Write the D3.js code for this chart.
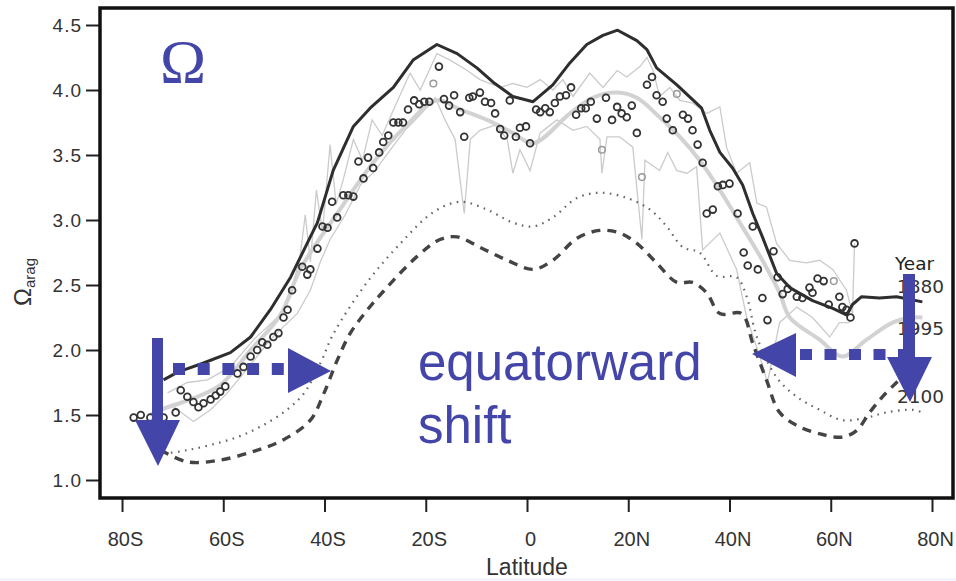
<!DOCTYPE html>
<html><head><meta charset="utf-8">
<script src="https://cdn.jsdelivr.net/npm/d3@7"></script>
<style>html,body{margin:0;padding:0;background:#fff;overflow:hidden}</style>
</head><body>
<svg id="c" width="956" height="581"></svg>
<script>
// ---------- data ----------
const latTicks = [-80,-60,-40,-20,0,20,40,60,80];
const latTickLabels = ["80S","60S","40S","20S","0","20N","40N","60N","80N"];
const omegaTicks = [1.0,1.5,2.0,2.5,3.0,3.5,4.0,4.5];
const legendYears = ["1880","1995","2100"];

// 1880 (solid black)
const lat1880 = [-71.8,-69.0,-63.9,-58.6,-54.6,-50.7,-46.7,-42.8,-41.4,-38.3,-34.3,-31.0,-26.4,-22.5,-17.8,-13.8,-9.9,-6.7,-2.8,1.2,5.1,8.5,11.8,15.0,17.9,21.7,23.7,25.6,29.6,34.5,36.1,38.1,40.6,42.6,44.6,46.5,49.3,51.9,56.4,60.4,63.1,64.3,66.1,69.6,73.0,78.1];
const val1880 = [1.77,1.83,1.90,1.98,2.10,2.31,2.56,2.87,2.98,3.38,3.72,3.86,4.02,4.23,4.35,4.28,4.17,4.06,3.95,3.91,4.04,4.21,4.35,4.42,4.46,4.38,4.31,4.17,4.04,3.86,3.69,3.52,3.40,3.27,3.05,2.87,2.59,2.48,2.38,2.32,2.27,2.35,2.41,2.40,2.41,2.37];

// 1995 model (thick light grey)
const lat1995 = [-74.5,-72.4,-66.5,-60.6,-54.6,-48.7,-44.8,-37.5,-30.4,-24.0,-17.8,-13.2,-7.9,-2.8,1.2,8.5,13.0,17.8,21.7,26.2,30.2,34.1,38.1,41.4,46.5,49.9,51.9,57.8,62.3,67.1,72.2,76.1,78.1];
const val1995 = [1.50,1.54,1.62,1.73,2.00,2.27,2.62,3.05,3.44,3.72,3.92,3.85,3.77,3.67,3.59,3.82,3.94,3.98,3.94,3.79,3.64,3.46,3.23,3.02,2.69,2.44,2.25,2.08,1.95,2.08,2.21,2.25,2.25];

// observations, thin grey traces
const latObsA = [-71.0,-67.1,-63.1,-58.6,-54.0,-49.3,-46.7,-44.8,-43.8,-42.8,-41.6,-40.4,-38.9,-37.7,-36.3,-34.3,-32.5,-30.6,-28.6,-26.0,-23.1,-21.1,-17.8,-15.2,-11.8,-9.3,-5.3,-2.8,0.0,2.6,5.1,7.1,9.1,12.4,15.0,17.8,19.7,22.3,23.7,24.9,26.2,28.2,30.2,32.7,35.5,38.1,39.4,41.4,44.0,45.4,47.3,49.3,51.9,55.2,57.8,60.4,63.1,64.3,64.7];
const valObsA = [1.67,1.75,1.77,1.87,2.08,2.25,2.41,2.73,3.04,2.68,3.23,2.91,3.58,3.12,3.31,3.62,3.46,3.77,3.65,3.88,4.13,4.00,4.28,4.23,4.15,4.08,4.02,4.05,4.02,4.08,4.00,4.08,3.95,4.13,4.02,4.15,4.10,4.18,4.25,4.15,3.95,4.02,3.92,3.90,3.82,3.87,3.56,3.36,3.44,3.13,3.10,2.82,2.69,2.67,2.69,2.62,2.46,2.28,2.82];
const latObsB = [-74.4,-70.4,-65.9,-62.5,-59.2,-56.0,-52.7,-50.7,-48.1,-45.4,-42.8,-40.8,-38.9,-35.9,-32.9,-30.0,-27.0,-24.1,-21.1,-18.1,-16.2,-14.2,-12.4,-11.2,-9.3,-6.3,-3.9,-2.8,-1.4,0.6,2.6,5.9,9.1,11.8,14.4,14.8,15.8,18.3,20.9,22.7,23.3,26.2,27.8,29.6,31.6,33.5,34.7,38.1,41.4,43.4,46.0,47.5,49.9,53.3,56.4,59.8,61.7,63.7];
const valObsB = [1.46,1.58,1.45,1.54,1.67,1.82,1.98,2.08,2.18,2.28,2.46,2.68,2.85,3.04,3.27,3.38,3.54,3.69,3.81,3.94,3.77,3.62,3.05,3.62,3.69,3.73,3.62,3.36,3.54,3.38,3.67,3.77,3.69,3.72,3.62,3.36,3.64,3.64,3.56,2.85,3.46,3.38,3.52,3.38,3.36,3.41,2.77,2.90,2.62,2.25,1.95,1.75,2.21,2.33,2.25,2.10,2.21,2.21];

// data points (open circles)
const latPts = [-77.7,-76.3,-74.4,-71.8,-69.4,-68.4,-67.1,-65.9,-64.9,-63.9,-62.5,-61.5,-60.6,-59.6,-57.2,-56.0,-54.6,-53.3,-52.3,-51.3,-50.1,-49.1,-48.1,-47.3,-46.4,-44.4,-43.4,-42.8,-41.4,-40.4,-39.4,-38.5,-37.5,-36.3,-35.3,-34.3,-33.3,-32.3,-31.4,-30.4,-29.2,-28.4,-27.4,-26.4,-25.4,-24.5,-23.5,-22.3,-21.3,-20.3,-19.3,-17.4,-16.4,-15.4,-14.4,-13.2,-12.4,-11.4,-10.7,-9.3,-8.3,-7.1,-6.3,-5.3,-4.5,-3.4,-2.2,-1.4,-0.2,0.6,1.8,2.6,3.6,4.5,5.5,6.5,7.7,8.7,9.7,10.7,11.6,12.6,13.8,15.6,16.8,17.8,18.7,19.7,20.7,21.7,23.7,24.7,25.6,26.8,27.6,28.8,30.8,31.8,32.7,33.7,34.7,35.5,36.7,37.7,38.7,40.0,41.6,42.8,43.6,44.6,45.6,46.5,47.5,48.7,49.5,50.5,51.5,53.3,54.4,55.8,56.4,57.4,58.6,59.6,61.7,62.3,63.1,63.9,64.7];
const valPts = [1.48,1.50,1.48,1.48,1.52,1.69,1.64,1.60,1.56,1.59,1.62,1.65,1.68,1.72,1.82,1.87,1.95,2.00,2.06,2.04,2.10,2.13,2.25,2.31,2.46,2.64,2.58,2.62,2.78,2.95,2.94,3.14,3.02,3.19,3.19,3.18,3.45,3.32,3.48,3.40,3.52,3.60,3.65,3.75,3.75,3.75,3.85,3.92,3.89,3.91,3.91,4.18,3.93,3.88,3.96,3.83,3.64,3.94,3.95,3.98,3.91,3.90,3.82,3.70,3.65,3.92,3.64,3.71,3.72,3.59,3.85,3.83,3.86,3.83,3.90,3.95,3.96,4.02,3.81,3.86,3.86,3.91,3.78,3.94,3.77,3.87,3.82,3.79,3.88,3.67,4.04,4.10,3.96,3.91,3.78,3.69,3.81,3.78,3.69,3.58,3.44,3.05,3.08,3.26,3.27,3.28,3.05,2.75,2.65,2.95,2.62,2.40,2.23,2.76,2.56,2.43,2.47,2.41,2.40,2.48,2.44,2.55,2.53,2.35,2.41,2.33,2.31,2.25,2.82];
const latPale = [-18.5,14.8,22.7,29.6,60.6];
const valPale = [4.05,3.54,3.33,3.97,2.53];

// 2100 projections
const latDot = [-73.0,-71.0,-67.1,-62.5,-57.2,-52.7,-48.1,-44.2,-40.8,-38.3,-31.6,-25.0,-18.5,-13.2,-7.9,-2.8,1.2,5.1,9.9,14.4,19.7,24.3,27.6,30.8,34.1,37.5,41.4,43.4,45.4,49.3,53.3,57.8,62.3,67.1,71.0,76.1,78.1];
const valDot = [1.23,1.21,1.23,1.27,1.33,1.41,1.52,1.66,1.90,2.12,2.52,2.82,3.06,3.14,3.08,2.98,2.95,3.02,3.17,3.21,3.17,3.08,2.95,2.79,2.75,2.57,2.56,2.41,2.10,1.79,1.64,1.54,1.46,1.48,1.52,1.54,1.52];
const latDash = [-72.4,-67.1,-61.1,-54.0,-48.1,-42.8,-40.2,-37.5,-34.9,-31.5,-28.4,-21.7,-17.2,-13.8,-9.3,-3.9,1.2,5.1,9.9,14.4,18.3,21.7,25.6,29.6,32.7,35.5,38.1,42.4,44.6,47.3,49.9,53.8,58.4,62.3,65.1,67.7,70.2,73.0,74.6];
const valDash = [1.23,1.14,1.15,1.22,1.31,1.46,1.66,1.92,2.13,2.31,2.45,2.72,2.85,2.87,2.79,2.69,2.62,2.69,2.86,2.92,2.90,2.82,2.67,2.52,2.52,2.44,2.28,2.28,2.05,1.77,1.52,1.41,1.35,1.33,1.38,1.52,1.64,1.75,1.81];

// ---------- drawing ----------
const svg = d3.select("#c");
const L = 100, R = 953, T = 8, B = 498;
const x = d3.scaleLinear().domain([-84.35, 84.15]).range([L, R]);
const y = d3.scaleLinear().domain([1, 4.5]).range([480, 25]);
const blue = "#4346a8";
const zip = (a, b) => a.map((v, i) => [v, b[i]]);

svg.append("rect").attr("x",0).attr("y",578).attr("width",956).attr("height",3).attr("fill","#f4f4fb");

const lineLin = d3.line().x(d => x(d[0])).y(d => y(d[1]));
const lineSm = d3.line().x(d => x(d[0])).y(d => y(d[1])).curve(d3.curveCatmullRom.alpha(0.5));

const g = svg.append("g");
// thin grey traces
[[latObsA, valObsA], [latObsB, valObsB]].forEach(([a, b]) => {
  g.append("path").attr("d", lineLin(zip(a, b))).attr("fill","none")
   .attr("stroke","#cbcbcb").attr("stroke-width",1.3);
});
// thick grey 1995
g.append("path").attr("d", lineSm(zip(lat1995, val1995))).attr("fill","none")
 .attr("stroke","#d2d2d2").attr("stroke-width",4).attr("stroke-linejoin","round");
// 2100 dotted & dashed
g.append("path").attr("d", lineSm(zip(latDot, valDot))).attr("fill","none")
 .attr("stroke","#666").attr("stroke-width",2.2).attr("stroke-dasharray","1.6 5.4");
g.append("path").attr("d", lineSm(zip(latDash, valDash))).attr("fill","none")
 .attr("stroke","#444").attr("stroke-width",3.4).attr("stroke-dasharray","9 7");
// circles
g.selectAll("circle.p").data(zip(latPts, valPts)).join("circle").attr("class","p")
 .attr("cx", d => x(d[0])).attr("cy", d => y(d[1])).attr("r",3.4)
 .attr("fill","none").attr("stroke","#333").attr("stroke-width",1.8);
g.selectAll("circle.q").data(zip(latPale, valPale)).join("circle").attr("class","q")
 .attr("cx", d => x(d[0])).attr("cy", d => y(d[1])).attr("r",3.3)
 .attr("fill","none").attr("stroke","#9a9a9a").attr("stroke-width",1.5);
// 1880 solid
g.append("path").attr("d", lineLin(zip(lat1880, val1880))).attr("fill","none")
 .attr("stroke","#2e2e2e").attr("stroke-width",3).attr("stroke-linejoin","round");

// axes
const ax = svg.append("g").attr("transform",`translate(0,${B})`)
  .call(d3.axisBottom(x).tickValues(latTicks).tickFormat((d,i) => latTickLabels[i]).tickSize(14).tickSizeOuter(0).tickPadding(20));
ax.select(".domain").remove();
ax.selectAll("line").attr("stroke","#222").attr("stroke-width",2);
ax.selectAll("text").attr("font-family","Liberation Sans, Arial, sans-serif").attr("font-size",20).attr("fill","#333").attr("dx",3);

const ay = svg.append("g").attr("transform",`translate(${L},0)`)
  .call(d3.axisLeft(y).tickValues(omegaTicks).tickFormat(d3.format(".1f")).tickSize(14).tickSizeOuter(0).tickPadding(4));
ay.select(".domain").remove();
ay.selectAll("line").attr("stroke","#222").attr("stroke-width",2);
ay.selectAll("text").attr("font-family","Liberation Sans, Arial, sans-serif").attr("font-size",19).attr("fill","#333").attr("letter-spacing","1px");

// frame
svg.append("rect").attr("x",L).attr("y",T).attr("width",R-L).attr("height",B-T)
  .attr("fill","none").attr("stroke","#111").attr("stroke-width",3.5);

// axis titles
svg.append("text").attr("x",527).attr("y",575).attr("text-anchor","middle")
  .attr("font-family","Liberation Sans, Arial, sans-serif").attr("font-size",23).attr("fill","#333").text("Latitude");
const yt = svg.append("text").attr("transform","translate(31,282) rotate(-90)").attr("text-anchor","middle")
  .attr("font-family","Liberation Sans, Arial, sans-serif").attr("fill","#333");
yt.append("tspan").attr("font-size",24).text("Ω");
yt.append("tspan").attr("font-size",15).attr("dy",4).text("arag");

// legend
const lg = svg.append("g").attr("font-family","DejaVu Sans, sans-serif").attr("font-size",18.5).attr("fill","#333");
lg.append("text").attr("x",895).attr("y",270).attr("fill","#222").text("Year");
const legY = [293, 335, 403];
legendYears.forEach((t, i) => lg.append("text").attr("x",897).attr("y",legY[i]).text(t));

// annotations
svg.append("text").attr("x",183).attr("y",82).attr("text-anchor","middle")
  .attr("font-family","Liberation Serif, Times New Roman, serif").attr("font-size",62).attr("fill",blue).text("Ω");
const ann = svg.append("text").attr("font-family","Liberation Sans, Arial, sans-serif").attr("font-size",51).attr("fill",blue);
ann.append("tspan").attr("x",418).attr("y",380).text("equatorward");
ann.append("tspan").attr("x",418).attr("y",443).text("shift");

const A = svg.append("g").attr("fill",blue).attr("stroke","none");
// left vertical arrow
A.append("rect").attr("x",152).attr("y",338).attr("width",11).attr("height",84);
A.append("path").attr("d","M135,420 L180,420 L158,466 Z");
// left horizontal dotted arrow
A.append("line").attr("x1",173).attr("x2",288).attr("y1",369).attr("y2",369)
  .attr("stroke",blue).attr("stroke-width",12).attr("stroke-dasharray","12 12.7");
A.append("path").attr("d","M288,348 L288,393 L331,371 Z");
// right horizontal dotted arrow
A.append("line").attr("x1",800).attr("x2",905).attr("y1",354.5).attr("y2",354.5)
  .attr("stroke",blue).attr("stroke-width",11).attr("stroke-dasharray","12 12.5");
A.append("path").attr("d","M796,333 L796,377 L752,354 Z");
// right vertical arrow
A.append("rect").attr("x",903).attr("y",274).attr("width",12).attr("height",85);
A.append("path").attr("d","M887,357 L932,357 L910,402 Z");
</script>
</body></html>
